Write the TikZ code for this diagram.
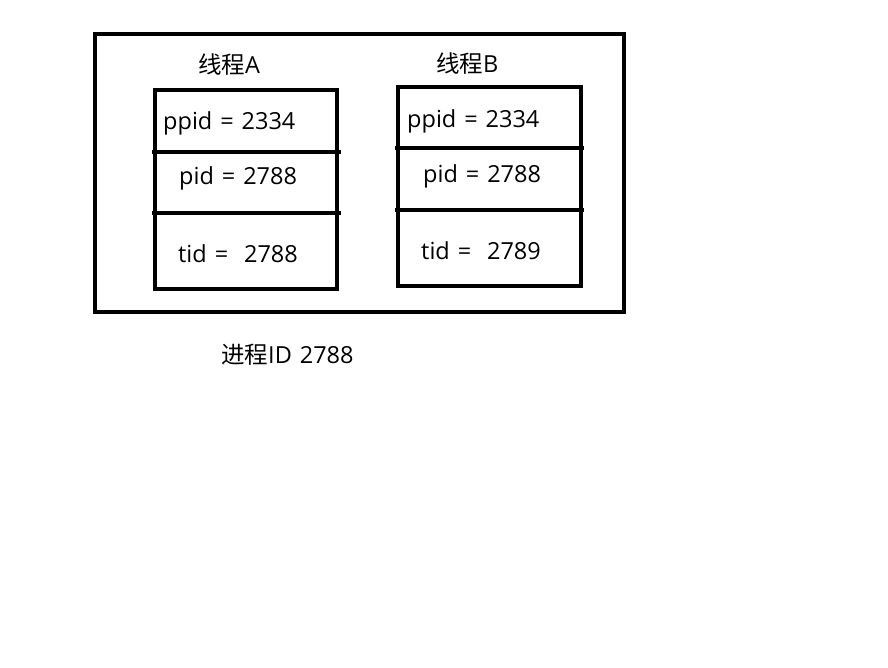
\documentclass[tikz,border=0pt]{standalone}
\usepackage{fontspec}
\setmainfont[WordSpace=1.3]{Open Sans}
\newfontfamily\cjk{Noto Sans CJK SC}
\usepackage{tikz}
\usetikzlibrary{positioning}

\begin{document}
\begin{tikzpicture}[x=1pt,y=-1pt,thick box/.style={draw,line width=4.5pt},
	txt/.style={anchor=west,inner sep=0pt,font=\fontsize{23.5}{26}\selectfont}]
\useasboundingbox (0,0) rectangle (888,667);
% outer frame
\draw [thick box] (95,34) rectangle (624,312);
% thread A
\draw [thick box] (155,90) rectangle (337,289);
\draw [line width=4.5pt] (152,152) -- (341,152);
\draw [line width=4.5pt] (152,213) -- (341,213);
% thread B
\draw [thick box] (398,87) rectangle (581,286);
\draw [line width=4.5pt] (395,148) -- (584,148);
\draw [line width=4.5pt] (395,210) -- (584,210);
\node [txt] (ta) at (198,65) {{\cjk 线程}A};
\node [txt] (tb) at (436,64) {{\cjk 线程}B};
\node [txt] (ppa) at (163,123) {ppid = 2334};
\node [txt] (pa) at (179,178) {pid = 2788};
\node [txt] (ida) at (178,254) {tid =\ \ 2788};
\node [txt] (ppb) at (407,121) {ppid = 2334};
\node [txt] (pb) at (423,176) {pid = 2788};
\node [txt] (idb) at (421,251) {tid =\ \ 2789};
\node [txt] (proc) at (221,355) {{\cjk 进程}ID 2788};
\end{tikzpicture}
\end{document}
